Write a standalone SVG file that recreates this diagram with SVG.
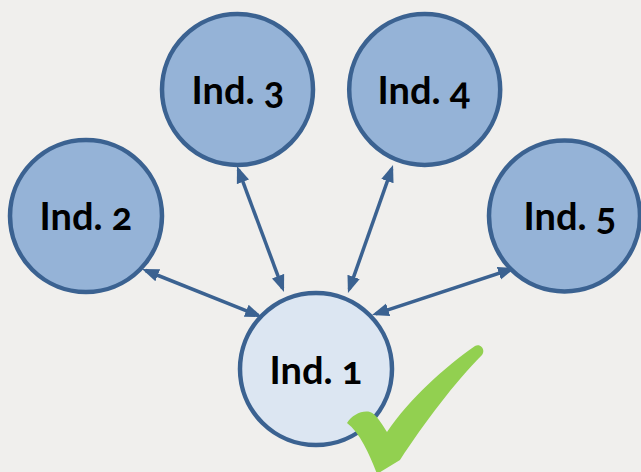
<svg xmlns="http://www.w3.org/2000/svg" width="641" height="472" viewBox="0 0 641 472">
<defs>
<style>
.n{fill:#95b3d7;stroke:#3b6291;stroke-width:4.5}
.n1{fill:#dce6f2;stroke:#3b6291;stroke-width:4.5}
.t{font-family:Lato,"Open Sans","Liberation Sans",sans-serif;font-weight:bold;font-size:38px;fill:#000;text-anchor:middle;font-variant-numeric:oldstyle-nums}
.c{stroke:#3b6291;stroke-width:3.5;fill:none;marker-start:url(#ah);marker-end:url(#ah)}
</style>
<marker id="ah" markerUnits="userSpaceOnUse" markerWidth="18" markerHeight="14" refX="13" refY="6.5" orient="auto-start-reverse" viewBox="0 0 18 13">
<path d="M0,0 L17,6.5 L0,13 Z" fill="#3b6291"/>
</marker>
</defs>
<rect width="641" height="472" fill="#f0efed"/>
<g id="connectors">
<line class="c" x1="145.7" y1="270.5" x2="258.3" y2="315.5"/>
<line class="c" x1="238.4" y1="169.7" x2="282.6" y2="288.3"/>
<line class="c" x1="391.7" y1="168.8" x2="349.3" y2="289.2"/>
<line class="c" x1="511.2" y1="269.2" x2="375.8" y2="313.8"/>
</g>
<g id="ind3"><circle class="n" cx="237.5" cy="89.5" r="75.5"/><text class="t" x="238" y="104">Ind. 3</text></g>
<g id="ind4"><circle class="n" cx="424.7" cy="89.5" r="75.5"/><text class="t" x="424" y="104">Ind. 4</text></g>
<g id="ind2"><circle class="n" cx="86" cy="216" r="76"/><text class="t" x="86" y="230">Ind. 2</text></g>
<g id="ind5"><circle class="n" cx="564.5" cy="216" r="75.5"/><text class="t" x="570" y="230">Ind. 5</text></g>
<g id="ind1"><circle class="n1" cx="316" cy="369" r="76"/><text class="t" x="316" y="384">Ind. 1</text></g>
<g id="check">
<path d="M347,423 C352,415 362,410 370,412 C376,414 382,424 387,432 C410,398 445,367 475,346 C480,343 486,349 482,355 C455,382 425,422 400,460 L377,474 C370,455 360,433 347,423 Z" fill="#92d050"/>
</g>
</svg>
